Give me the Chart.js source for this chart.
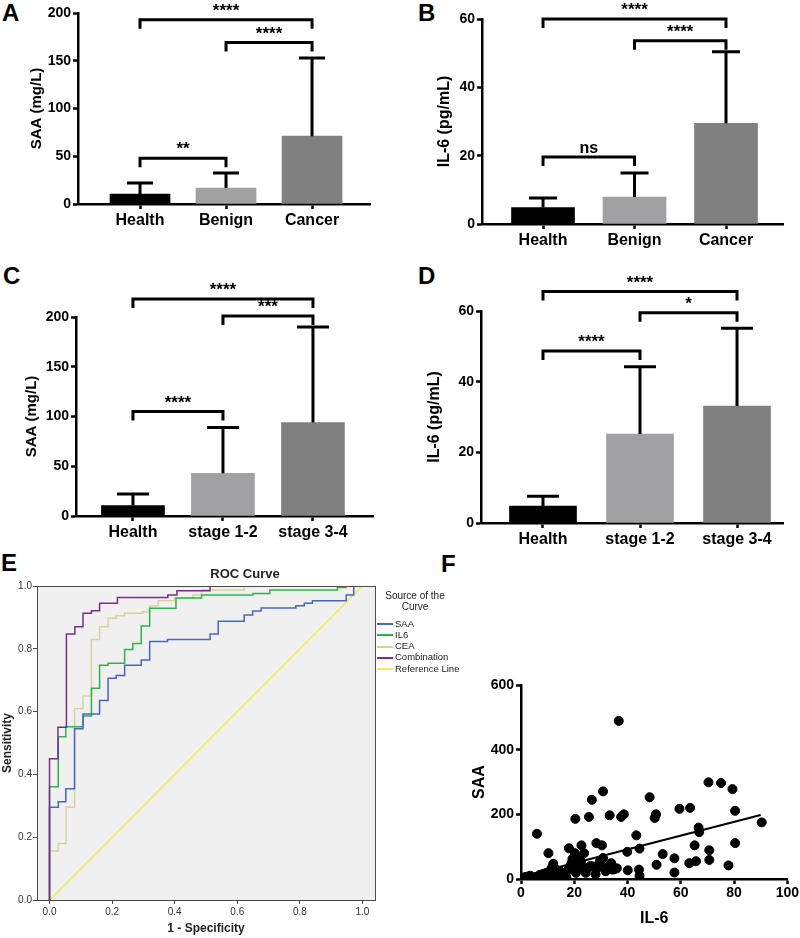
<!DOCTYPE html>
<html>
<head>
<meta charset="utf-8">
<script src="https://cdn.jsdelivr.net/npm/chart.js@4.4.4/dist/chart.umd.min.js"></script>
<style>
  body { margin: 0; width: 800px; height: 938px; position: relative; background: #fff; overflow: hidden; font-family: "Liberation Sans", Arial, sans-serif; }
  canvas { position: absolute; }
  .tag { position: absolute; font-weight: bold; font-size: 24px; line-height: 1; color: #000; }
  .leg { position: absolute; left: 377px; top: 590px; font-size: 9.5px; color: #222; line-height: 11.3px; }
  .leg .ttl { font-size: 10px; text-align: center; width: 72px; margin-left: 2px; margin-bottom: 5px; }
  .leg .it { white-space: nowrap; }
  .leg .ln { display: inline-block; width: 16px; height: 2px; vertical-align: middle; margin-right: 2px; }
</style>
</head>
<body>
<div class="tag" style="left:2px;top:1px">A</div>
<div class="tag" style="left:418px;top:1px">B</div>
<div class="tag" style="left:3px;top:264px">C</div>
<div class="tag" style="left:418px;top:264px">D</div>
<div class="tag" style="left:1px;top:551px">E</div>
<div class="tag" style="left:441px;top:552px">F</div>

<canvas id="cA" width="400" height="240" style="left:0;top:0;width:400px;height:240px"></canvas>
<canvas id="cB" width="400" height="250" style="left:400px;top:0;width:400px;height:250px"></canvas>
<canvas id="cC" width="400" height="300" style="left:0;top:250px;width:400px;height:300px"></canvas>
<canvas id="cD" width="400" height="300" style="left:400px;top:250px;width:400px;height:300px"></canvas>
<canvas id="cE" width="490" height="398" style="left:0;top:540px;width:490px;height:398px"></canvas>
<canvas id="cF" width="360" height="298" style="left:440px;top:640px;width:360px;height:298px"></canvas>

<div class="leg" id="legE"></div>

<script>
// ---- data ----
const groupsABC = ['Health', 'Benign', 'Cancer'];
const groupsStage = ['Health', 'stage 1-2', 'stage 3-4'];

const saaMeanA = [10.5, 16.8, 71];
const saaErrA  = [11.5, 15.7, 82];
const il6MeanB = [4.8, 7.9, 29.5];
const il6ErrB  = [2.8, 7.0, 20.9];
const saaMeanC = [10.5, 43, 94];
const saaErrC  = [11.5, 46, 96];
const il6MeanD = [4.8, 25.2, 33.1];
const il6ErrD  = [2.8, 19, 22];

// [from, to, height, label]
const sigA = [[0, 2, 193, '****'], [1, 2, 169, '****'], [0, 1, 48, '**']];
const sigB = [[0, 2, 60, '****'], [1, 2, 53.6, '****'], [0, 1, 19.6, 'ns']];
const sigC = [[0, 2, 218, '****'], [1, 2, 201, '***'], [0, 1, 105, '****']];
const sigD = [[0, 2, 65.5, '****'], [1, 2, 59.5, '*'], [0, 1, 48.7, '****']];

// ROC step curves (1 - specificity, sensitivity)
const saaFpr = [0, 0, 0.028, 0.028, 0.052, 0.052, 0.08, 0.08, 0.107, 0.107, 0.16, 0.16, 0.187, 0.187, 0.213, 0.213, 0.24, 0.24, 0.293, 0.293, 0.32, 0.32, 0.377, 0.377, 0.513, 0.513, 0.539, 0.539, 0.622, 0.622, 0.649, 0.649, 0.676, 0.676, 0.787, 0.787, 0.814, 0.814, 0.84, 0.84, 0.948, 0.948, 0.972, 0.972, 1];
const saaTpr = [0, 0.295, 0.295, 0.313, 0.313, 0.354, 0.354, 0.545, 0.545, 0.592, 0.592, 0.635, 0.635, 0.706, 0.706, 0.715, 0.715, 0.748, 0.748, 0.764, 0.764, 0.823, 0.823, 0.83, 0.83, 0.847, 0.847, 0.888, 0.888, 0.908, 0.908, 0.92, 0.92, 0.93, 0.93, 0.937, 0.937, 0.945, 0.945, 0.953, 0.953, 0.971, 0.971, 1, 1];
const il6Fpr = [0, 0, 0.028, 0.028, 0.052, 0.052, 0.107, 0.107, 0.134, 0.134, 0.16, 0.16, 0.187, 0.187, 0.24, 0.24, 0.266, 0.266, 0.293, 0.293, 0.32, 0.32, 0.404, 0.404, 0.486, 0.486, 0.65, 0.65, 0.704, 0.704, 0.92, 0.92, 0.947, 0.947, 1];
const il6Tpr = [0, 0.361, 0.361, 0.52, 0.52, 0.552, 0.552, 0.586, 0.586, 0.674, 0.674, 0.748, 0.748, 0.754, 0.754, 0.798, 0.798, 0.817, 0.817, 0.873, 0.873, 0.929, 0.929, 0.962, 0.962, 0.971, 0.971, 0.976, 0.976, 0.987, 0.987, 0.995, 0.995, 1, 1];
const ceaFpr = [0, 0, 0.028, 0.028, 0.053, 0.053, 0.08, 0.08, 0.107, 0.107, 0.134, 0.134, 0.16, 0.16, 0.187, 0.187, 0.213, 0.213, 0.24, 0.24, 0.298, 0.298, 0.32, 0.32, 0.347, 0.347, 0.4, 0.4, 0.459, 0.459, 0.486, 0.486, 0.622, 0.622, 1];
const ceaTpr = [0, 0.156, 0.156, 0.18, 0.18, 0.295, 0.295, 0.61, 0.61, 0.65, 0.65, 0.83, 0.83, 0.87, 0.87, 0.897, 0.897, 0.905, 0.905, 0.913, 0.913, 0.918, 0.918, 0.936, 0.936, 0.953, 0.953, 0.962, 0.962, 0.971, 0.971, 0.987, 0.987, 1, 1];
const combFpr = [0, 0, 0.027, 0.027, 0.054, 0.054, 0.081, 0.081, 0.107, 0.107, 0.134, 0.134, 0.16, 0.16, 0.217, 0.217, 0.378, 0.378, 0.407, 0.407, 0.513, 0.513, 1];
const combTpr = [0, 0.45, 0.45, 0.55, 0.55, 0.847, 0.847, 0.87, 0.87, 0.913, 0.913, 0.921, 0.921, 0.945, 0.945, 0.963, 0.963, 0.971, 0.971, 0.985, 0.985, 1, 1];
const refFpr = [0, 1];
const refTpr = [0, 1];

// IL-6 vs SAA scatter
const il6Pts = [36.7, 70.4, 75.1, 79.4, 30.8, 48.3, 26.6, 80.4, 59.5, 63.5, 50.7, 50.2, 38.6, 37.6, 33.3, 25.5, 20.4, 6.0, 90.4, 66.7,
  66.9, 43.3, 65.2, 80.4, 28.3, 30.4, 22.7, 18.0, 20.2, 20.8, 23.7, 10.3, 44.5, 39.9, 53.2, 70.7, 57.6, 70.7, 65.7, 63.2,
  50.9, 77.9, 57.6, 40.1, 44.3, 44.5, 30.8, 29.6, 33.9, 34.5, 35.2, 31.8, 28.0, 19.3, 19.8, 19.0, 12.1, 22.0, 23.6, 24.3,
  25.2, 27.0, 29.0, 17.7, 13.3, 14.6, 10.8, 9.6, 8.4, 16.8, 7.1, 5.9, 1.5, 2.7, 4.0, 5.2, 7.1, 8.4, 9.6, 10.8,
  12.7, 14.0, 15.2, 11.5, 12.7, 20.6, 21.4, 26.0, 33.0, 18.5, 22.5, 17.0, 3.5, 9.0, 13.5, 36.0, 30.0];
const saaPts = [489, 299, 297, 278, 271, 253, 245, 211, 217, 220, 200, 189, 200, 192, 197, 192, 186, 140, 175, 159,
  145, 135, 104, 111, 111, 104, 104, 95, 80, 65, 80, 80, 94, 84, 77, 89, 64, 59, 55, 49,
  44, 42, 20, 27, 29, 10, 65, 55, 49, 29, 31, 24, 14, 62, 51, 49, 47, 41, 35, 19,
  34, 39, 36, 29, 29, 24, 24, 19, 16, 8, 13, 6, 6, 8, 3, 4, 2, 3, 6, 8,
  6, 13, 19, 34, 24, 19, 29, 40, 40, 40, 55, 5, 10, 10, 15, 33, 45];
const fitIl6 = [0.5, 90];
const fitSaa = [8, 198];

// ---- helpers ----
const FONT = '"Liberation Sans", Arial, sans-serif';
const bold = (size) => ({ family: FONT, size, weight: 'bold' });
const pts = (xs, ys) => xs.map((x, i) => ({ x, y: ys[i] }));

const errBars = {
  id: 'errBars',
  afterDatasetsDraw(chart, args, opts) {
    const { ctx, scales: { x, y } } = chart;
    ctx.save();
    ctx.strokeStyle = '#000'; ctx.lineWidth = 3;
    chart.data.datasets[0].data.forEach((p, i) => {
      const cx = x.getPixelForValue(p.x);
      const y0 = y.getPixelForValue(p.y), y1 = y.getPixelForValue(p.y + opts.err[i]);
      ctx.beginPath();
      ctx.moveTo(cx, y0); ctx.lineTo(cx, y1);
      ctx.moveTo(cx - opts.cap, y1); ctx.lineTo(cx + opts.cap, y1);
      ctx.stroke();
    });
    ctx.restore();
  }
};

const brackets = {
  id: 'brackets',
  afterDraw(chart, args, opts) {
    const { ctx, scales: { x, y } } = chart;
    ctx.save();
    ctx.strokeStyle = '#000'; ctx.fillStyle = '#000'; ctx.lineWidth = 3;
    ctx.textAlign = 'center'; ctx.textBaseline = 'alphabetic';
    for (const [a, b, h, lbl] of opts.items) {
      const x1 = x.getPixelForValue(a), x2 = x.getPixelForValue(b), yy = y.getPixelForValue(h);
      ctx.beginPath();
      ctx.moveTo(x1, yy + 9); ctx.lineTo(x1, yy); ctx.lineTo(x2, yy); ctx.lineTo(x2, yy + 9);
      ctx.stroke();
      ctx.font = `bold ${lbl === 'ns' ? 16 : 17}px ${FONT}`;
      ctx.fillText(lbl, (x1 + x2) / 2, yy - 4);
    }
    ctx.restore();
  }
};

function barPanel(id, labels, means, errs, colors, sig, o) {
  return new Chart(document.getElementById(id), {
    type: 'bar',
    data: { datasets: [{ data: means.map((v, i) => ({ x: i, y: v })), backgroundColor: colors, barThickness: o.barW }] },
    options: {
      responsive: false, animation: false, events: [],
      layout: { padding: { left: o.padL, right: o.padR, top: o.padT, bottom: 0 } },
      plugins: { legend: { display: false }, tooltip: { enabled: false }, errBars: { err: errs, cap: o.cap }, brackets: { items: sig } },
      scales: {
        x: {
          type: 'linear', min: o.xMin, max: o.xMax, offset: false,
          afterBuildTicks: (s) => { s.ticks = labels.map((_, i) => ({ value: i })); },
          afterFit: (s) => { s.height = o.xH; },
          ticks: { callback: (v) => labels[v], font: bold(16), color: '#000', padding: 2, maxRotation: 0, autoSkip: false },
          grid: { drawOnChartArea: false, offset: false, tickLength: 5, tickWidth: 2.5, tickColor: '#000' },
          border: { color: '#000', width: 2.5 }
        },
        y: {
          min: 0, max: o.yMax,
          afterFit: (s) => { s.width = o.yW; },
          ticks: { stepSize: o.step, font: bold(14), color: '#000', padding: 2 },
          title: { display: true, text: o.title, font: bold(o.titleSize), color: '#000', padding: { top: 0, bottom: 0 } },
          grid: { drawOnChartArea: false, tickLength: 5, tickWidth: 2.5, tickColor: '#000' },
          border: { color: '#000', width: 2.5 }
        }
      }
    },
    plugins: [errBars, brackets]
  });
}

const grays = ['#000000', '#a1a1a4', '#808080'];

barPanel('cA', groupsABC, saaMeanA, saaErrA, grays, sigA,
  { padL: 28, yW: 50, padR: 30, padT: 13, xH: 36, xMin: -0.721, xMax: 2.674, barW: 60, cap: 13, yMax: 200, step: 50, title: 'SAA (mg/L)', titleSize: 15 });
barPanel('cB', groupsABC, il6MeanB, il6ErrB, grays, sigB,
  { padL: 35, yW: 47, padR: 17, padT: 19, xH: 26, xMin: -0.667, xMax: 2.623, barW: 63, cap: 14, yMax: 60, step: 20, title: 'IL-6 (pg/mL)', titleSize: 16 });
barPanel('cC', groupsStage, saaMeanC, saaErrC, grays, sigC,
  { padL: 23, yW: 53, padR: 27, padT: 67, xH: 34, xMin: -0.633, xMax: 2.667, barW: 63, cap: 16, yMax: 200, step: 50, title: 'SAA (mg/L)', titleSize: 15 });
barPanel('cD', groupsStage, il6MeanD, il6ErrD, grays, sigD,
  { padL: 25, yW: 56, padR: 17, padT: 61, xH: 27, xMin: -0.639, xMax: 2.474, barW: 67, cap: 16, yMax: 60, step: 20, title: 'IL-6 (pg/mL)', titleSize: 16 });

// ---- E: ROC ----
const rocSeries = [
  { label: 'Combination', xs: combFpr, ys: combTpr, color: '#7b2c8c' },
  { label: 'SAA', xs: saaFpr, ys: saaTpr, color: '#4765c4' },
  { label: 'IL6', xs: il6Fpr, ys: il6Tpr, color: '#2db34a' },
  { label: 'CEA', xs: ceaFpr, ys: ceaTpr, color: '#d8d29a' },
  { label: 'Reference Line', xs: refFpr, ys: refTpr, color: '#f2ec4c' }
];

const plotFrame = {
  id: 'plotFrame',
  beforeDraw(chart) {
    const { ctx, chartArea: a } = chart;
    ctx.save(); ctx.fillStyle = '#f0f0f0';
    ctx.fillRect(a.left, a.top, a.right - a.left, a.bottom - a.top);
    ctx.restore();
  },
  afterDraw(chart) {
    const { ctx, chartArea: a } = chart;
    ctx.save(); ctx.strokeStyle = '#4a4a4a'; ctx.lineWidth = 1;
    ctx.strokeRect(Math.round(a.left) + 0.5, Math.round(a.top) + 0.5, Math.round(a.right - a.left), Math.round(a.bottom - a.top));
    ctx.restore();
  }
};

const rocTicks = [0, 0.2, 0.4, 0.6, 0.8, 1];
const small = { family: FONT, size: 10 };
new Chart(document.getElementById('cE'), {
  type: 'line',
  data: {
    datasets: rocSeries.map((s) => ({
      label: s.label, data: pts(s.xs, s.ys), borderColor: s.color, borderWidth: 1.5,
      pointRadius: 0, tension: 0, fill: false
    }))
  },
  options: {
    responsive: false, animation: false, events: [],
    layout: { padding: 0 },
    plugins: {
      legend: { display: false }, tooltip: { enabled: false },
      title: { display: true, text: 'ROC Curve', font: bold(13), color: '#222', padding: { top: 27, bottom: 3.4 } }
    },
    scales: {
      x: {
        type: 'linear', min: -0.04, max: 1.04,
        afterBuildTicks: (s) => { s.ticks = rocTicks.map((v) => ({ value: v })); },
        afterFit: (s) => { s.height = 38; },
        ticks: { callback: (v) => v.toFixed(1), font: small, color: '#333', padding: 2, maxRotation: 0 },
        title: { display: true, text: '1 - Specificity', font: bold(12), color: '#222', padding: { top: 0, bottom: 2 } },
        grid: { drawOnChartArea: false, tickLength: 4, tickColor: '#4a4a4a', tickWidth: 1 },
        border: { display: false }
      },
      y: {
        min: 0, max: 1,
        afterBuildTicks: (s) => { s.ticks = rocTicks.map((v) => ({ value: v })); },
        afterFit: (s) => { s.width = 37; },
        ticks: { callback: (v) => v.toFixed(1), font: small, color: '#333', padding: 1 },
        title: { display: true, text: 'Sensitivity', font: bold(12), color: '#222', padding: { top: 0, bottom: 0 } },
        grid: { drawOnChartArea: false, tickLength: 4, tickColor: '#4a4a4a', tickWidth: 1 },
        border: { display: false }
      },
      legendSpace: {
        type: 'linear', position: 'right', display: true,
        afterFit: (s) => { s.width = 115; },
        ticks: { display: false }, grid: { display: false }, border: { display: false }
      }
    }
  },
  plugins: [plotFrame]
});

// legend for E (SPSS style, listed in source order)
const legOrder = ['SAA', 'IL6', 'CEA', 'Combination', 'Reference Line'];
document.getElementById('legE').innerHTML =
  '<div class="ttl">Source of the<br>Curve</div>' +
  legOrder.map((n) => {
    const s = rocSeries.find((r) => r.label === n);
    return `<div class="it"><span class="ln" style="background:${s.color}"></span>${n}</div>`;
  }).join('');

// ---- F: scatter ----
new Chart(document.getElementById('cF'), {
  type: 'scatter',
  data: {
    datasets: [
      { type: 'line', data: pts(fitIl6, fitSaa), borderColor: '#000', borderWidth: 2, pointRadius: 0 },
      { data: pts(il6Pts, saaPts), backgroundColor: '#000', borderColor: '#000', pointRadius: 4.5 }
    ]
  },
  options: {
    responsive: false, animation: false, events: [],
    layout: { padding: { left: 30, right: 12, top: 45, bottom: 0 } },
    plugins: { legend: { display: false }, tooltip: { enabled: false } },
    scales: {
      x: {
        type: 'linear', min: 0, max: 100,
        afterFit: (s) => { s.height = 59; },
        ticks: { stepSize: 20, font: bold(14), color: '#000', padding: 1, maxRotation: 0 },
        title: { display: true, text: 'IL-6', font: bold(16), color: '#000', padding: { top: 0, bottom: 10 } },
        grid: { drawOnChartArea: false, tickLength: 5, tickWidth: 2.5, tickColor: '#000' },
        border: { color: '#000', width: 2.5 }
      },
      y: {
        min: 0, max: 600,
        afterFit: (s) => { s.width = 51; },
        ticks: { stepSize: 200, font: bold(14), color: '#000', padding: 2 },
        title: { display: true, text: 'SAA', font: bold(16), color: '#000', padding: { top: 0, bottom: 0 } },
        grid: { drawOnChartArea: false, tickLength: 5, tickWidth: 2.5, tickColor: '#000' },
        border: { color: '#000', width: 2.5 }
      }
    }
  }
});
</script>
</body>
</html>
